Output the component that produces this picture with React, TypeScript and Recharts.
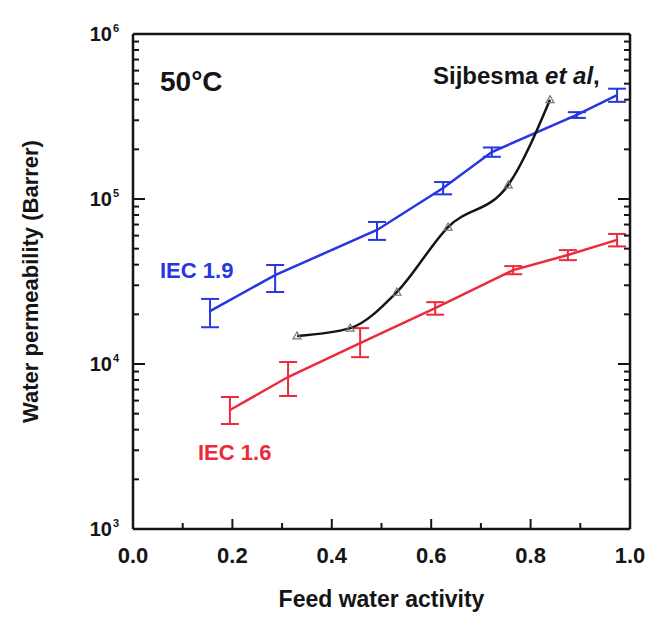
import { LineChart, Line, XAxis, YAxis, ErrorBar, Label } from 'recharts';

// IEC 1.9 membrane (blue)
const activityIEC19 = [0.155, 0.286, 0.491, 0.624, 0.722, 0.893, 0.974];
const permIEC19 = [20900, 34600, 64900, 116700, 192700, 323000, 426000];
const errIEC19 = [[4200, 3900], [7300, 5200], [8400, 7700], [10000, 10000], [12500, 12500], [13000, 13000], [38000, 40000]];

// IEC 1.6 membrane (red)
const activityIEC16 = [0.195, 0.312, 0.457, 0.608, 0.765, 0.875, 0.974];
const permIEC16 = [5260, 8340, 13400, 21800, 37100, 45800, 56500];
const errIEC16 = [[930, 1050], [1940, 1940], [2400, 3100], [1900, 1900], [2100, 2100], [3200, 3200], [4900, 4900]];

// Sijbesma et al. (black)
const activitySijbesma = [0.33, 0.437, 0.531, 0.634, 0.755, 0.839];
const permSijbesma = [14800, 16500, 27300, 67600, 121700, 400000];

const xTicks = [0, 0.1, 0.2, 0.3, 0.4, 0.5, 0.6, 0.7, 0.8, 0.9, 1.0];
const yDecades = [1000, 10000, 100000, 1000000];
const yMinorSteps = [2, 3, 4, 5, 6, 7, 8, 9];

const yTicks = [
  ...yDecades,
  ...yDecades.slice(0, 3).flatMap((d) => yMinorSteps.map((m) => m * d)),
].sort((a, b) => a - b);

const iec19Data = activityIEC19.map((a, i) => ({ a, p: permIEC19[i], err: errIEC19[i] }));
const iec16Data = activityIEC16.map((a, i) => ({ a, p: permIEC16[i], err: errIEC16[i] }));
const sijbesmaData = activitySijbesma.map((a, i) => ({ a, p: permSijbesma[i] }));

const FONT = '"Liberation Sans", Arial, sans-serif';
const BLUE = '#2636e0';
const RED = '#ec2a3c';
const INK = '#151515';

const isMajorX = (v: number) => Math.round(v * 10) % 2 === 0;
const isDecade = (v: number) => yDecades.includes(v);

const renderBottomTick = (props: any) => {
  const { x, y, payload } = props;
  const major = isMajorX(payload.value);
  return (
    <g key={`b-${payload.value}`}>
      <path d={`M${x},${y}V${y - (major ? 10 : 6)}`} stroke={INK} strokeWidth={2} fill="none" />
      {major && (
        <text x={x} y={y + 34} textAnchor="middle" fontFamily={FONT} fontWeight="bold" fontSize={22} fill={INK} stroke="none">
          {payload.value.toFixed(1)}
        </text>
      )}
    </g>
  );
};

const renderTopTick = (props: any) => {
  const { x, y, payload } = props;
  const major = isMajorX(payload.value);
  return (
    <path key={`t-${payload.value}`} d={`M${x},${y}V${y + (major ? 10 : 6)}`} stroke={INK} strokeWidth={2} fill="none" />
  );
};

const renderLeftTick = (props: any) => {
  const { x, y, payload } = props;
  const major = isDecade(payload.value);
  const exp = Math.round(Math.log10(payload.value));
  return (
    <g key={`l-${payload.value}`}>
      <path d={`M${x},${y}H${x + (major ? 12 : 6)}`} stroke={INK} strokeWidth={2} fill="none" />
      {major && (
        <text fontFamily={FONT} fontWeight="bold" fill={INK} stroke="none">
          <tspan x={x - 21} y={y + 7} textAnchor="end" fontSize={20}>10</tspan>
          <tspan x={x - 20} y={y - 2} fontSize={11}>{exp}</tspan>
        </text>
      )}
    </g>
  );
};

const renderRightTick = (props: any) => {
  const { x, y, payload } = props;
  const major = isDecade(payload.value);
  return (
    <path key={`r-${payload.value}`} d={`M${x},${y}H${x - (major ? 12 : 6)}`} stroke={INK} strokeWidth={2} fill="none" />
  );
};

const TriangleDot = ({ cx, cy }: any) => (
  <path
    d={`M${cx},${cy - 4} L${cx + 4},${cy + 3} L${cx - 4},${cy + 3} Z`}
    fill="none"
    stroke="#777"
    strokeWidth={1.2}
  />
);

const YTitle = ({ viewBox }: any) => {
  const cx = viewBox.x + 17;
  const cy = viewBox.y + viewBox.height / 2;
  return (
    <text
      x={cx}
      y={cy}
      transform={`rotate(-90 ${cx} ${cy})`}
      textAnchor="middle"
      dominantBaseline="central"
      fontFamily={FONT}
      fontWeight="bold"
      fontSize={22}
      fill={INK}
    >
      Water permeability (Barrer)
    </text>
  );
};

const XTitle = ({ viewBox }: any) => (
  <text
    x={viewBox.x + viewBox.width / 2}
    y={viewBox.y + 78}
    textAnchor="middle"
    fontFamily={FONT}
    fontWeight="bold"
    fontSize={23}
    fill={INK}
  >
    Feed water activity
  </text>
);

export default function App() {
  return (
    <div style={{ position: 'absolute', left: 0, top: 0, background: '#fff' }}>
      <LineChart width={653} height={623} margin={{ top: 4, right: 13, bottom: 14, left: 13 }}>
        <XAxis
          dataKey="a"
          type="number"
          domain={[0, 1]}
          ticks={xTicks}
          allowDataOverflow
          height={80}
          tickSize={0}
          tickMargin={0}
          tickLine={false}
          tick={renderBottomTick}
          interval={0}
          axisLine={{ stroke: INK, strokeWidth: 2.5 }}
        >
          <Label content={<XTitle />} />
        </XAxis>
        <XAxis
          xAxisId="top"
          orientation="top"
          type="number"
          domain={[0, 1]}
          ticks={xTicks}
          allowDataOverflow
          height={30}
          tickSize={0}
          tickMargin={0}
          tickLine={false}
          tick={renderTopTick}
          interval={0}
          axisLine={{ stroke: INK, strokeWidth: 2.5 }}
        />
        <YAxis
          type="number"
          scale="log"
          domain={[1000, 1000000]}
          ticks={yTicks}
          allowDataOverflow
          width={120}
          tickSize={0}
          tickMargin={0}
          tickLine={false}
          tick={renderLeftTick}
          interval={0}
          axisLine={{ stroke: INK, strokeWidth: 2.5 }}
        >
          <Label content={<YTitle />} />
        </YAxis>
        <YAxis
          yAxisId="right"
          orientation="right"
          type="number"
          scale="log"
          domain={[1000, 1000000]}
          ticks={yTicks}
          allowDataOverflow
          width={10}
          tickSize={0}
          tickMargin={0}
          tickLine={false}
          tick={renderRightTick}
          interval={0}
          axisLine={{ stroke: INK, strokeWidth: 2.5 }}
        />

        <Line
          data={iec19Data}
          dataKey="p"
          type="linear"
          stroke={BLUE}
          strokeWidth={2.5}
          dot={false}
          isAnimationActive={false}
        >
          <ErrorBar dataKey="err" direction="y" width={9} stroke={BLUE} strokeWidth={2} isAnimationActive={false} />
        </Line>
        <Line
          data={iec16Data}
          dataKey="p"
          type="linear"
          stroke={RED}
          strokeWidth={2.5}
          dot={false}
          isAnimationActive={false}
        >
          <ErrorBar dataKey="err" direction="y" width={9} stroke={RED} strokeWidth={2} isAnimationActive={false} />
        </Line>
        <Line
          data={sijbesmaData}
          dataKey="p"
          type="monotone"
          stroke={INK}
          strokeWidth={2.5}
          dot={<TriangleDot />}
          isAnimationActive={false}
        />

        <text x={160} y={91} fontFamily={FONT} fontWeight="bold" fontSize={28} fill={INK}>
          50°C
        </text>
        <text x={433} y={84} fontFamily={FONT} fontWeight="bold" fontSize={24} fill={INK}>
          Sijbesma <tspan fontStyle="italic">et al</tspan>,
        </text>
        <text x={160} y={278} fontFamily={FONT} fontWeight="bold" fontSize={22} fill={BLUE}>
          IEC 1.9
        </text>
        <text x={198} y={460} fontFamily={FONT} fontWeight="bold" fontSize={22} fill={RED}>
          IEC 1.6
        </text>
      </LineChart>
    </div>
  );
}
